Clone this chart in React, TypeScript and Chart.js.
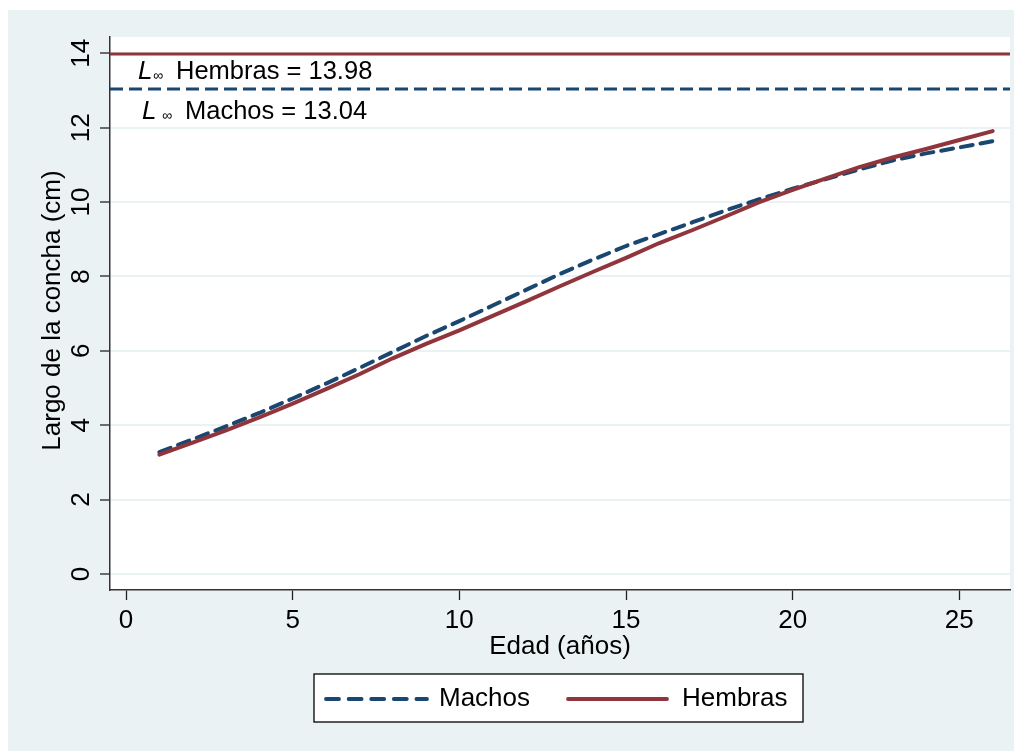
import React, { useEffect, useRef } from "react";
import { Chart, registerables } from "chart.js";

Chart.register(...registerables);

const AGES = [1, 2, 3, 4, 5, 6, 7, 8, 9, 10, 11, 12, 13, 14, 15, 16, 17, 18, 19, 20, 21, 22, 23, 24, 25, 26];
const MACHOS = [3.28, 3.62, 3.97, 4.33, 4.72, 5.12, 5.54, 5.97, 6.4, 6.8, 7.22, 7.64, 8.06, 8.45, 8.82, 9.14, 9.46, 9.78, 10.08, 10.36, 10.62, 10.88, 11.12, 11.31, 11.47, 11.64];
const HEMBRAS = [3.21, 3.53, 3.86, 4.21, 4.58, 4.97, 5.37, 5.8, 6.19, 6.55, 6.94, 7.33, 7.73, 8.12, 8.5, 8.9, 9.25, 9.62, 10.0, 10.33, 10.64, 10.94, 11.2, 11.43, 11.67, 11.91];
const LINF_MACHOS = 13.04;
const LINF_HEMBRAS = 13.98;
const X_TICKS = [0, 5, 10, 15, 20, 25];
const Y_TICKS = [0, 2, 4, 6, 8, 10, 12, 14];
const X_MIN = -0.48;
const X_MAX = 26.52;
const Y_MIN = -0.43;
const Y_MAX = 14.44;
const SERIES_LABELS = ["Machos", "Hembras"];
const X_TITLE = "Edad (años)";
const Y_TITLE = "Largo de la concha (cm)";

const NAVY = "#1a476f";
const RED = "#90353b";
const BG = "#eaf2f3";
const FONT = "'Liberation Sans', Arial, sans-serif";

export default function App() {
  const ref = useRef<HTMLCanvasElement | null>(null);
  useEffect(() => {
    document.body.style.overflow = "hidden";
    const canvas = ref.current!;
    const decor = {
      id: "decor",
      beforeDraw(chart: any) {
        const { ctx, chartArea: a } = chart;
        ctx.save();
        ctx.fillStyle = BG;
        ctx.fillRect(0, 0, chart.width, chart.height);
        ctx.fillStyle = "#ffffff";
        ctx.fillRect(a.left, a.top, a.right - a.left, a.bottom - a.top);
        ctx.restore();
      },
      afterDraw(chart: any) {
        const { ctx, chartArea: a } = chart;
        const ys = chart.scales.y;
        ctx.save();
        ctx.fillStyle = "#000";
        // y tick labels, rotated
        ctx.font = `26px ${FONT}`;
        ctx.textAlign = "center";
        ctx.textBaseline = "middle";
        for (const v of Y_TICKS) {
          const py = ys.getPixelForValue(v);
          ctx.save();
          ctx.translate(a.left - 28, py);
          ctx.rotate(-Math.PI / 2);
          ctx.fillText(String(v), 0, 0);
          ctx.restore();
        }
        // y title
        ctx.save();
        ctx.font = `26px ${FONT}`;
        ctx.translate(a.left - 57, (a.top + a.bottom) / 2 - 3);
        ctx.rotate(-Math.PI / 2);
        ctx.fillText(Y_TITLE, 0, 0);
        ctx.restore();
        // x title
        ctx.font = `26px ${FONT}`;
        ctx.fillText(X_TITLE, (a.left + a.right) / 2, a.bottom + 57);

        // L-inf labels
        const drawLinf = (lx: number, ix: number, tx: number, baseY: number, text: string) => {
          ctx.textAlign = "left";
          ctx.textBaseline = "alphabetic";
          ctx.font = `italic 26px ${FONT}`;
          ctx.fillText("L", lx, baseY);
          ctx.font = `14px ${FONT}`;
          ctx.fillText("\u221e", ix, baseY + 1);
          ctx.font = `25.5px ${FONT}`;
          ctx.fillText(text, tx, baseY);
        };
        const hy = ys.getPixelForValue(LINF_HEMBRAS);
        const my = ys.getPixelForValue(LINF_MACHOS);
        drawLinf(a.left + 28, a.left + 43, a.left + 66, hy + 25, `Hembras = ${LINF_HEMBRAS.toFixed(2)}`);
        drawLinf(a.left + 32, a.left + 52, a.left + 75, my + 30, `Machos = ${LINF_MACHOS.toFixed(2)}`);

        // legend
        const lx = 306, ly = 664, lw = 489, lh = 48;
        ctx.fillStyle = "#ffffff";
        ctx.fillRect(lx, ly, lw, lh);
        ctx.strokeStyle = "#000";
        ctx.lineWidth = 1.3;
        ctx.strokeRect(lx, ly, lw, lh);
        const cy = ly + lh / 2 + 1;
        ctx.lineWidth = 3.8;
        ctx.lineCap = "round";
        ctx.strokeStyle = NAVY;
        ctx.setLineDash([13, 9.6]);
        ctx.beginPath();
        ctx.moveTo(lx + 12, cy);
        ctx.lineTo(lx + 113, cy);
        ctx.stroke();
        ctx.setLineDash([]);
        ctx.strokeStyle = RED;
        ctx.beginPath();
        ctx.moveTo(lx + 254, cy);
        ctx.lineTo(lx + 353, cy);
        ctx.stroke();
        ctx.fillStyle = "#000";
        ctx.font = `26px ${FONT}`;
        ctx.textAlign = "left";
        ctx.textBaseline = "middle";
        ctx.fillText(SERIES_LABELS[0], lx + 125, cy);
        ctx.fillText(SERIES_LABELS[1], lx + 368, cy);
        ctx.restore();
      },
    };

    const chart = new Chart(canvas, {
      type: "line",
      data: {
        datasets: [
          {
            label: SERIES_LABELS[0],
            data: AGES.map((a, i) => ({ x: a, y: MACHOS[i] })),
            borderColor: NAVY,
            borderWidth: 4,
            borderDash: [12, 8],
            borderCapStyle: "round",
            pointRadius: 0,
            fill: false,
            tension: 0,
            order: 2,
          },
          {
            label: SERIES_LABELS[1],
            data: AGES.map((a, i) => ({ x: a, y: HEMBRAS[i] })),
            borderColor: RED,
            borderWidth: 4,
            borderCapStyle: "round",
            pointRadius: 0,
            fill: false,
            tension: 0,
            order: 1,
          },
          {
            label: "Linf Machos",
            data: [{ x: X_MIN, y: LINF_MACHOS }, { x: X_MAX, y: LINF_MACHOS }],
            borderColor: NAVY,
            borderWidth: 3,
            borderDash: [13, 6],
            pointRadius: 0,
            fill: false,
            order: 3,
          },
          {
            label: "Linf Hembras",
            data: [{ x: X_MIN, y: LINF_HEMBRAS }, { x: X_MAX, y: LINF_HEMBRAS }],
            borderColor: RED,
            borderWidth: 3,
            pointRadius: 0,
            fill: false,
            order: 3,
          },
        ],
      },
      options: {
        animation: false,
        responsive: false,
        layout: { padding: { top: 27, right: 12, left: 0, bottom: 0 } },
        plugins: { legend: { display: false }, tooltip: { enabled: false }, title: { display: false } },
        scales: {
          x: {
            type: "linear",
            min: X_MIN,
            max: X_MAX,
            afterBuildTicks: (s: any) => {
              s.ticks = X_TICKS.map((v) => ({ value: v }));
            },
            afterFit: (s: any) => {
              s.height = 161;
            },
            grid: { drawOnChartArea: false, drawTicks: true, tickLength: 10, tickColor: "#222", tickWidth: 1.3 },
            border: { display: true, color: "#333", width: 1.5 },
            ticks: { color: "#000", font: { family: FONT, size: 26 }, padding: 5, maxRotation: 0, autoSkip: false },
          },
          y: {
            type: "linear",
            min: Y_MIN,
            max: Y_MAX,
            afterBuildTicks: (s: any) => {
              s.ticks = Y_TICKS.map((v) => ({ value: v }));
            },
            afterFit: (s: any) => {
              s.width = 102;
            },
            grid: { color: BG, lineWidth: 2, drawTicks: true, tickLength: 10, tickColor: "#222", tickWidth: 1.3 },
            border: { display: true, color: "#333", width: 1.5 },
            ticks: { display: false },
          },
        },
      },
      plugins: [decor],
    } as any);
    return () => chart.destroy();
  }, []);
  return (
    <div style={{ marginTop: 2 }}>
      <canvas ref={ref} width={1014} height={741} style={{ display: "block", width: 1014, height: 741 }} />
    </div>
  );
}
